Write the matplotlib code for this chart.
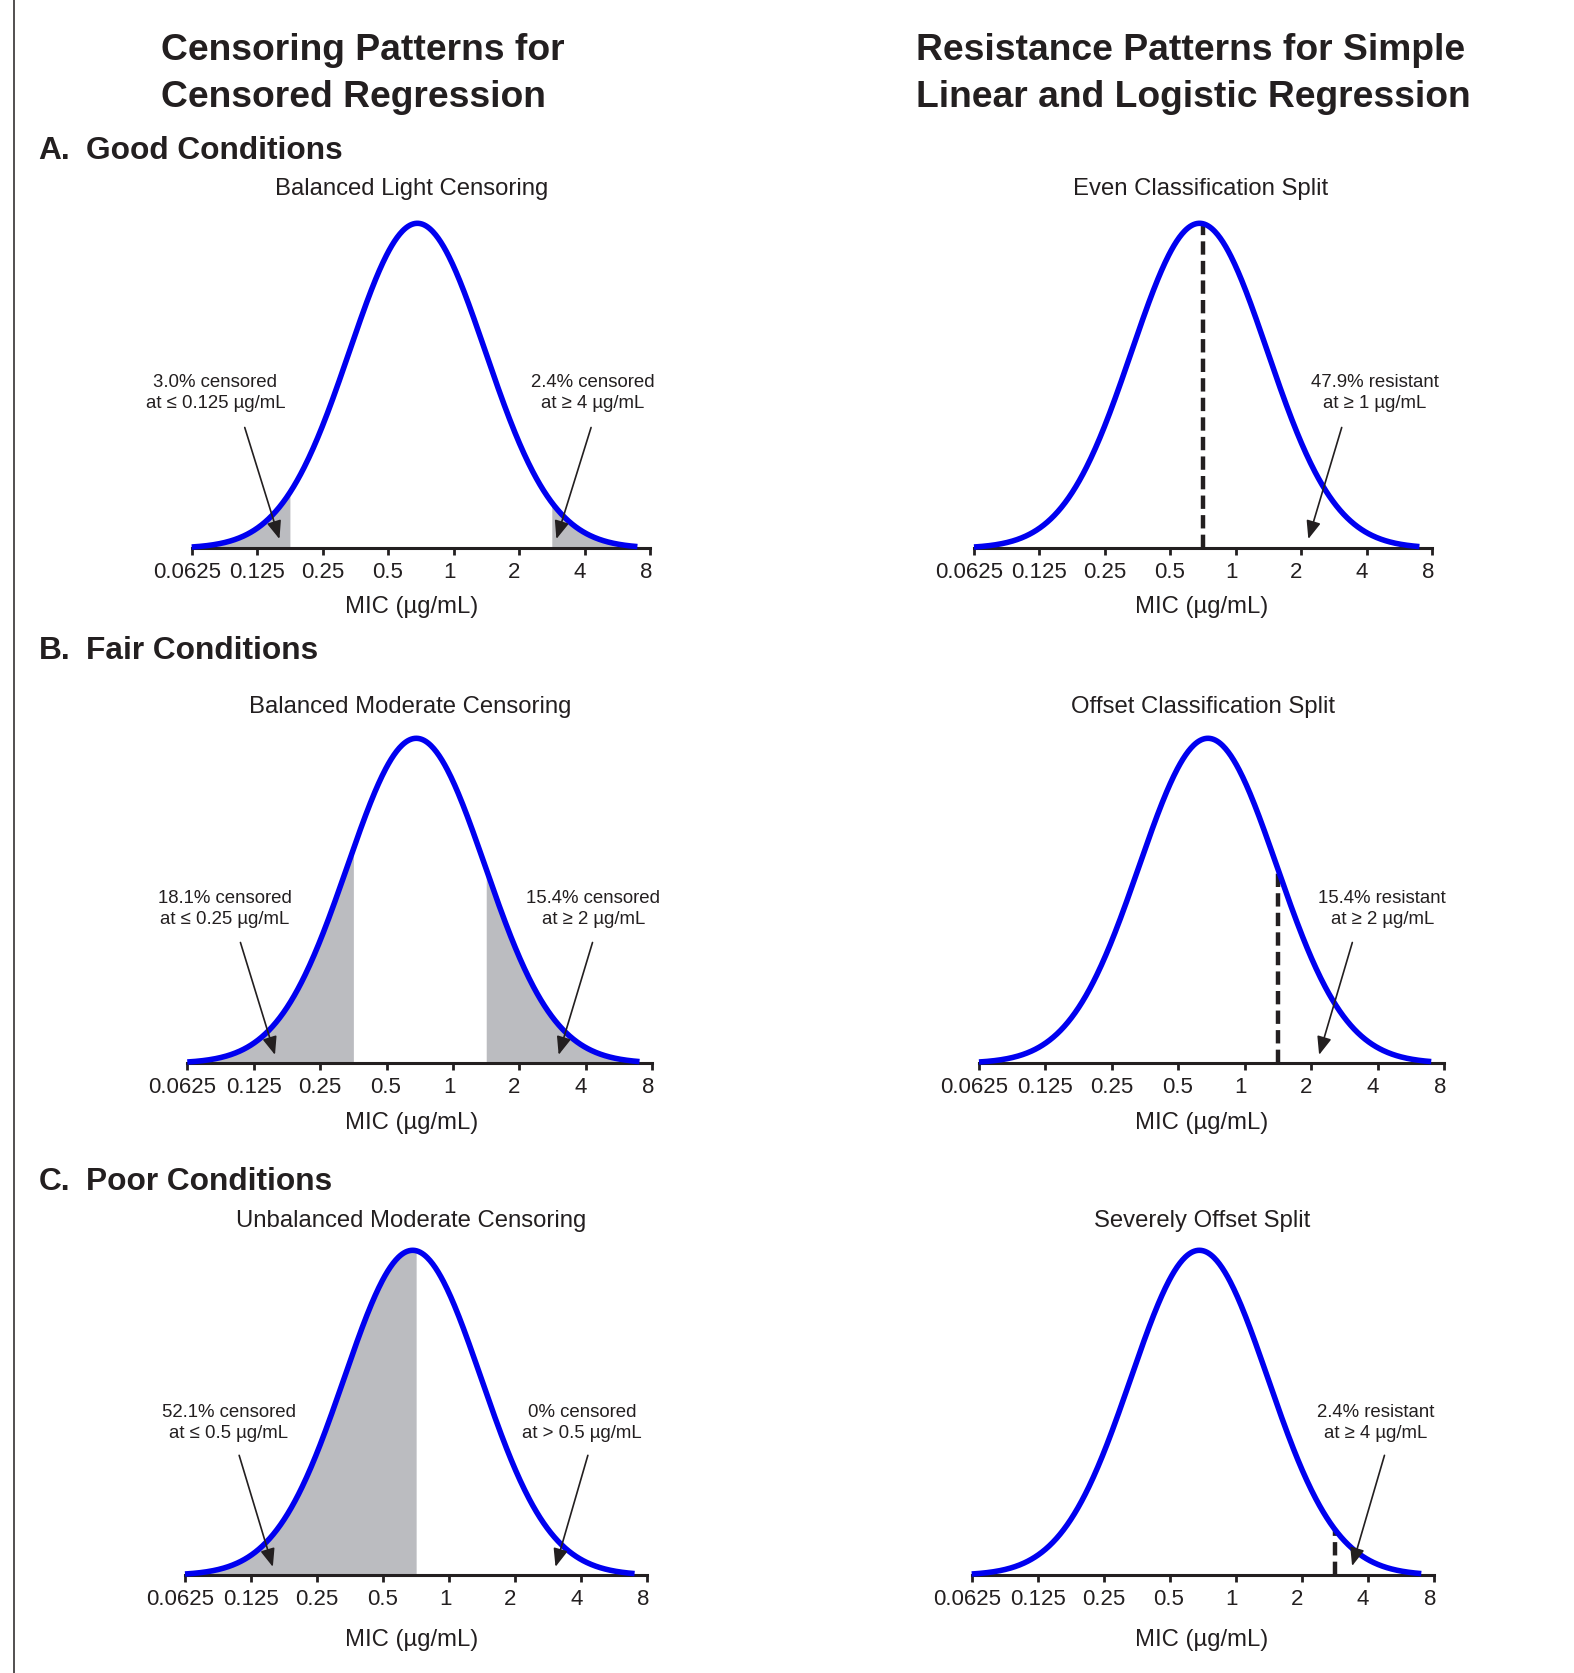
import numpy as np
import matplotlib
matplotlib.use('Agg')
import matplotlib.pyplot as plt
from matplotlib.lines import Line2D
from matplotlib.ticker import NullLocator
from matplotlib.transforms import ScaledTranslation

plt.rcParams['font.family'] = ['Liberation Sans', 'DejaVu Sans']

W, H = 1574, 1673
INK = '#231f20'
BLUE = '#0000f0'
GREY = '#bbbcc0'

# ---------------- data ----------------
mic_ticks = [0.0625, 0.125, 0.25, 0.5, 1, 2, 4, 8]
tick_labels = ['0.0625', '0.125', '0.25', '0.5', '1', '2', '4', '8']

# log2-normal MIC distribution drawn in every panel
log2_mean = -0.553
log2_sd = 1.037
curve_lo, curve_hi = 0.0625, 7.0

section_letters = ['A.', 'B.', 'C.']
section_names = ['Good Conditions', 'Fair Conditions', 'Poor Conditions']

cens_titles = ['Balanced Light Censoring', 'Balanced Moderate Censoring',
               'Unbalanced Moderate Censoring']
cens_low_mic = [0.125, 0.25, 0.5]      # censored at <= value
cens_low_pct = ['3.0', '18.1', '52.1']
cens_high_mic = [4, 2, 0.5]            # censored at >= (or >) value
cens_high_pct = ['2.4', '15.4', '0']
cens_high_op = ['≥', '≥', '>']

res_titles = ['Even Classification Split', 'Offset Classification Split',
              'Severely Offset Split']
res_mic = [1, 2, 4]                    # resistant at >= value
res_pct = ['47.9', '15.4', '2.4']

# ---------------- layout (figure pixels) ----------------
# axis start x, axis end x, axis line y
left_pos = [(191.7, 650.0, 548.3), (187.3, 652.3, 1063.3), (185.0, 647.3, 1575.3)]
right_pos = [(974.0, 1432.0, 548.3), (979.0, 1444.0, 1063.3), (971.7, 1434.0, 1575.3)]
section_y = [151, 651, 1182]
left_title_xy = [(412, 189), (410, 707), (411, 1221)]
right_title_xy = [(1201, 189), (1203, 707), (1202, 1221)]
xlabel_y = [607, 1123, 1640]
tick_shift_px = [-5, 0, 0, -1, -4, -5, -5, -4]

# annotation layout in log2 units: (text x, text y, tail x, tail y, tip x, tip y)
left_note_lo = [(-3.64, 0.184, -3.19, 0.143, -2.66, 0.011),
                (-3.44, 0.183, -3.20, 0.143, -2.68, 0.010),
                (-3.34, 0.180, -3.18, 0.142, -2.67, 0.010)]
left_note_hi = [(2.12, 0.184, 2.10, 0.143, 1.57, 0.011),
                (2.11, 0.183, 2.10, 0.143, 1.59, 0.010),
                (2.01, 0.180, 2.10, 0.142, 1.61, 0.010)]
right_note = [(2.13, 0.184, 1.62, 0.143, 1.11, 0.011),
              (2.07, 0.183, 1.62, 0.143, 1.12, 0.010),
              (2.12, 0.180, 2.25, 0.142, 1.76, 0.011)]

PEAK_PX = 325
YMAX = 0.40


def density(mic):
    u = np.log2(mic)
    return np.exp(-0.5 * ((u - log2_mean) / log2_sd) ** 2) / (log2_sd * np.sqrt(2 * np.pi))


def make_axes(x0, x1, yax):
    pdf_max = 1 / (log2_sd * np.sqrt(2 * np.pi))
    h = YMAX / pdf_max * PEAK_PX
    ax = fig.add_axes([x0 / W, 1 - yax / H, (x1 - x0) / W, h / H])
    ax.set_xscale('log', base=2)
    ax.set_xlim(mic_ticks[0], mic_ticks[-1])
    ax.set_ylim(0, YMAX)
    ax.set_xticks(mic_ticks, tick_labels)
    ax.xaxis.set_minor_locator(NullLocator())
    ax.set_yticks([])
    for s in ['top', 'left', 'right']:
        ax.spines[s].set_visible(False)
    ax.spines['bottom'].set_linewidth(2.2)
    ax.spines['bottom'].set_color(INK)
    ax.spines['bottom'].set_zorder(2)
    ax.tick_params(axis='x', direction='out', length=5, width=2.0, color=INK,
                   labelsize=16, labelcolor=INK, pad=4.8)
    for lab, dx in zip(ax.get_xticklabels(), tick_shift_px):
        lab.set_transform(lab.get_transform() +
                          ScaledTranslation(dx / 100, 0, fig.dpi_scale_trans))
    ax.patch.set_visible(False)
    return ax


def draw_curve(ax):
    mic = np.logspace(np.log2(curve_lo), np.log2(curve_hi), 500, base=2)
    ax.plot(mic, density(mic), color=BLUE, lw=4.0, zorder=4, clip_on=False,
            solid_capstyle='butt')


def shade(ax, lo, hi):
    mic = np.logspace(np.log2(lo), np.log2(hi), 300, base=2)
    ax.fill_between(mic, density(mic), 0, color=GREY, lw=0, zorder=1)


def note(ax, text, lay):
    tx, ty, ax_, ay, bx, by = lay
    ax.text(2 ** tx, ty, text, ha='center', va='center', fontsize=13.4,
            color=INK, linespacing=1.32, clip_on=False)
    ax.annotate('', xy=(2 ** bx, by), xytext=(2 ** ax_, ay),
                arrowprops=dict(arrowstyle='-|>,head_length=0.55,head_width=0.22',
                                mutation_scale=20, lw=1.2, color=INK,
                                shrinkA=0, shrinkB=0),
                annotation_clip=False, zorder=5)


fig = plt.figure(figsize=(W / 100, H / 100), dpi=100)
fig.patch.set_facecolor('white')

# left frame line
fig.add_artist(Line2D([14 / W, 14 / W], [0, 1], color=INK, lw=1.1))

# column titles
fig.text(161 / W, 1 - 74 / H, 'Censoring Patterns for\nCensored Regression',
         fontsize=26.8, fontweight='bold', color=INK, ha='left', va='center',
         linespacing=1.45)
fig.text(915.7 / W, 1 - 74 / H, 'Resistance Patterns for Simple\nLinear and Logistic Regression',
         fontsize=26.8, fontweight='bold', color=INK, ha='left', va='center',
         linespacing=1.45)

for i in range(3):
    fig.text(38.5 / W, 1 - section_y[i] / H, section_letters[i], fontsize=22.8,
             fontweight='bold', color=INK, ha='left', va='center')
    fig.text(86 / W, 1 - section_y[i] / H, section_names[i], fontsize=22.8,
             fontweight='bold', color=INK, ha='left', va='center')

    # censored regression panel
    x0, x1, yax = left_pos[i]
    ax = make_axes(x0, x1, yax)
    shade(ax, curve_lo, cens_low_mic[i] * np.sqrt(2))
    if float(cens_high_pct[i]) > 0:
        shade(ax, cens_high_mic[i] / np.sqrt(2), curve_hi)
    draw_curve(ax)
    note(ax, f'{cens_low_pct[i]}% censored\nat ≤ {cens_low_mic[i]:g} µg/mL', left_note_lo[i])
    note(ax, f'{cens_high_pct[i]}% censored\nat {cens_high_op[i]} {cens_high_mic[i]:g} µg/mL',
         left_note_hi[i])
    fig.text(left_title_xy[i][0] / W, 1 - left_title_xy[i][1] / H, cens_titles[i],
             fontsize=17.2, color=INK, ha='center', va='center')
    fig.text(412 / W, 1 - xlabel_y[i] / H, 'MIC (µg/mL)', fontsize=17.2,
             color=INK, ha='center', va='center')

    # logistic / linear regression panel
    x0, x1, yax = right_pos[i]
    ax = make_axes(x0, x1, yax)
    cut = res_mic[i] / np.sqrt(2)
    ax.plot([cut, cut], [0, density(cut)], color=INK, lw=3.2, ls=(0, (3.0, 1.4)),
            zorder=3)
    draw_curve(ax)
    note(ax, f'{res_pct[i]}% resistant\nat ≥ {res_mic[i]:g} µg/mL', right_note[i])
    fig.text(right_title_xy[i][0] / W, 1 - right_title_xy[i][1] / H, res_titles[i],
             fontsize=17.2, color=INK, ha='center', va='center')
    fig.text(1202 / W, 1 - xlabel_y[i] / H, 'MIC (µg/mL)', fontsize=17.2,
             color=INK, ha='center', va='center')

fig.savefig('out.png', dpi=100)
